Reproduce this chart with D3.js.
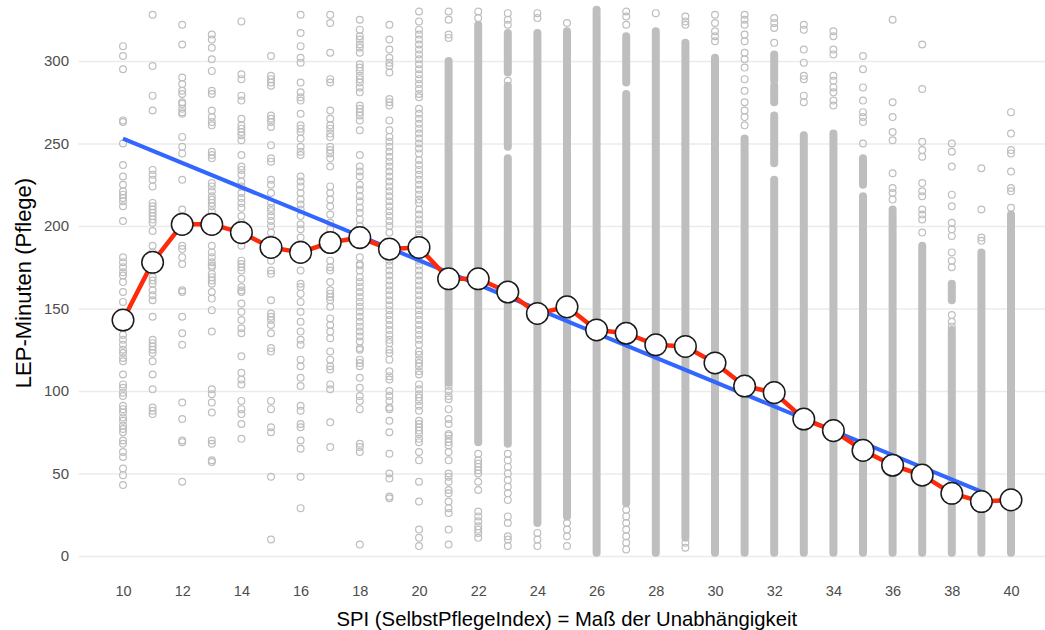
<!DOCTYPE html>
<html>
<head>
<meta charset="utf-8">
<script src="https://cdn.jsdelivr.net/npm/d3@7"></script>
<style>
  body { margin: 0; background: #fff; }
  svg { display: block; font-family: "Liberation Sans", Arial, sans-serif; }
</style>
</head>
<body>
<div id="chart"></div>
<script>
// SPI categories (x) and the tick labels
const spiValues = [10, 11, 12, 13, 14, 15, 16, 17, 18, 19, 20, 21, 22, 23, 24, 25,
                   26, 27, 28, 29, 30, 31, 32, 33, 34, 35, 36, 37, 38, 39, 40];
const spiTicks = [10, 12, 14, 16, 18, 20, 22, 24, 26, 28, 30, 32, 34, 36, 38, 40];
const minuteTicks = [0, 50, 100, 150, 200, 250, 300];

// mean LEP minutes per SPI (red line)
const meanMinutes = [143, 178, 201, 201, 196, 187, 184, 190, 193, 186, 187, 168, 168, 160, 147, 151,
                     137, 135, 128, 127, 117, 103, 99, 83, 76, 64, 55, 49, 38, 33, 34];

// linear fit (blue line), start and end point
const fitSpi = [10, 39];
const fitMinutes = [253, 39];

// single patients per SPI (sparse parts of each column)
const pointMinutes = [
  [309, 303, 295, 264, 263, 250, 237, 230, 225, 221, 219, 217, 215, 212, 203, 181, 178, 175, 172, 170, 166, 160, 154, 134, 131, 128, 125, 123, 120, 118, 110, 104, 102, 99, 97, 91, 89, 87, 84, 82, 79, 77, 75, 70, 68, 63, 60, 53, 49, 43],
  [328, 297, 279, 270, 234, 231, 228, 224, 214, 212, 210, 208, 206, 204, 202, 197, 188, 184, 180, 169, 167, 165, 161, 158, 155, 145, 131, 129, 127, 125, 123, 118, 110, 101, 90, 88, 86],
  [322, 310, 290, 286, 282, 280, 275, 274, 271, 269, 268, 254, 248, 244, 228, 210, 188, 186, 181, 177, 161, 160, 145, 135, 128, 93, 83, 70, 69, 45],
  [316, 313, 308, 301, 294, 282, 280, 270, 266, 263, 261, 245, 243, 241, 226, 224, 221, 218, 216, 214, 212, 209, 188, 184, 181, 178, 176, 175, 171, 169, 167, 165, 160, 156, 149, 136, 101, 98, 93, 87, 70, 68, 58, 57],
  [324, 292, 289, 279, 276, 265, 261, 259, 257, 255, 252, 243, 236, 234, 231, 227, 224, 220, 217, 214, 211, 206, 202, 188, 179, 177, 175, 173, 168, 163, 161, 160, 153, 148, 143, 138, 135, 121, 111, 107, 104, 94, 89, 86, 80, 71],
  [303, 291, 289, 287, 285, 267, 265, 263, 260, 249, 241, 239, 228, 225, 220, 214, 211, 209, 206, 203, 200, 196, 179, 173, 171, 155, 147, 145, 143, 140, 135, 126, 124, 94, 89, 78, 75, 48, 10],
  [328, 317, 309, 302, 299, 287, 281, 278, 276, 268, 261, 259, 257, 253, 248, 245, 243, 230, 227, 224, 220, 216, 213, 210, 206, 201, 198, 193, 173, 165, 163, 159, 154, 148, 142, 136, 131, 128, 119, 115, 108, 103, 91, 88, 80, 78, 70, 65, 48, 29],
  [328, 323, 305, 289, 287, 270, 265, 261, 259, 256, 254, 248, 246, 244, 241, 236, 224, 220, 216, 212, 207, 202, 198, 179, 175, 173, 166, 161, 159, 157, 155, 151, 144, 140, 136, 132, 124, 119, 115, 113, 104, 101, 81, 66],
  [325, 319, 315, 313, 310, 308, 305, 298, 296, 294, 291, 289, 287, 284, 281, 273, 271, 269, 267, 264, 258, 243, 236, 233, 230, 225, 222, 218, 215, 211, 208, 204, 200, 188, 181, 177, 176, 173, 169, 166, 163, 160, 157, 154, 151, 148, 145, 142, 139, 136, 133, 130, 126, 125, 119, 117, 115, 108, 102, 97, 94, 89, 68, 66, 63, 7],
  [322, 313, 307, 302, 299, 297, 293, 277, 275, 273, 264, 258, 254, 251, 248, 245, 242, 239, 236, 233, 230, 227, 224, 221, 218, 215, 212, 209, 206, 203, 200, 196,
   179, 176, 173, 170, 167, 164, 161, 158, 155, 152, 149, 146, 143, 140, 137, 134, 131, 129, 125, 123, 119, 112, 109, 107, 100, 97, 94, 90, 89, 82, 75, 62, 50, 47, 36, 35],
  [330, 324, 319, 316, 313, 310, 307, 304, 301, 298, 295, 292, 289, 286, 283, 280, 278, 271, 268, 265, 262, 259, 256, 253, 250, 247, 244, 240, 237, 234, 231, 228, 225, 222, 219, 216, 214,
   210, 207, 204, 201, 198, 195, 193, 179, 176, 173, 170, 167, 164, 161, 158, 155, 152, 149, 146, 143, 140, 137, 134, 131, 128,
   124, 122, 119, 117, 115, 112, 110, 104, 101, 98, 96, 94, 91, 88, 82, 80, 78, 76, 74, 71, 69, 63, 58, 45, 33, 16, 11, 6],
  [330, 325, 316, 314, 103, 100, 97, 95, 89, 83, 80, 74, 73, 71, 69, 67, 63, 58, 50, 48, 45, 40, 38, 33, 29, 26, 16, 7],
  [330, 326, 62, 58, 56, 54, 52, 50, 45, 40, 27, 24, 21, 18, 16, 14, 11],
  [329, 325, 322, 288, 62, 58, 54, 50, 46, 42, 38, 34, 24, 20, 12, 10, 6],
  [329, 326, 14, 10, 6],
  [323, 20, 16, 12, 6],
  [],
  [330, 327, 322, 28, 24, 20, 16, 12, 8, 4],
  [329],
  [327, 324, 322, 8, 5],
  [328, 323, 318, 315, 312],
  [328, 325, 322, 316, 312, 305, 301, 296, 289, 282, 275, 270, 266, 261],
  [326, 323, 320, 311],
  [322, 319, 307, 299, 291, 289, 279, 275],
  [318, 315, 307, 304, 291, 288, 284, 281, 276, 273],
  [303, 295, 284, 276, 269, 266, 263, 250],
  [325, 275, 266, 257, 252, 232, 223, 220, 216],
  [310, 283, 251, 246, 242, 226, 221, 218, 210, 207, 204, 196],
  [250, 245, 236, 219, 212, 202, 198, 194, 184, 179, 175, 146, 142, 139],
  [235, 210, 193, 191],
  [269, 256, 246, 244, 233, 223, 221, 211]
];

// stretches where the circles overlap into a solid column [from, to]
const denseMinutes = [
  [], [], [], [], [], [], [], [], [], [], [],
  [[105, 300]],
  [[69, 322]],
  [[68, 241], [248, 285], [293, 317]],
  [[20, 317]],
  [[24, 318]],
  [[2, 331]],
  [[32, 280], [287, 315]],
  [[2, 318]],
  [[11, 311]],
  [[2, 302]],
  [[2, 253]],
  [[2, 228], [238, 267], [275, 285], [288, 304]],
  [[2, 255]],
  [[2, 256]],
  [[2, 218], [225, 241]],
  [[2, 210]],
  [[2, 188]],
  [[2, 137], [155, 165]],
  [[2, 184]],
  [[2, 207]]
];

const width = 1045, height = 630;
const panel = {left: 78.6, right: 1055, bottom: 583};

const svg = d3.select("#chart")
  .append("svg")
    .attr("width", width)
    .attr("height", height);

const x = d3.scaleLinear().domain([10, 40]).range([123, 1011]);
const y = d3.scaleLinear().domain([0, 300]).range([556, 61]);

// horizontal grid + y labels
const yAxis = svg.append("g")
  .attr("transform", "translate(" + panel.left + ",0)")
  .call(d3.axisLeft(y)
    .tickValues(minuteTicks)
    .tickSize(-(panel.right - panel.left))
    .tickPadding(9.6));
yAxis.select(".domain").remove();
yAxis.selectAll("line").attr("stroke", "#ebebeb").attr("stroke-width", 1.3);
yAxis.selectAll("text")
  .attr("fill", "#4d4d4d")
  .style("font-size", "15px");

// x labels (no ticks)
const xAxis = svg.append("g")
  .attr("transform", "translate(0," + panel.bottom + ")")
  .call(d3.axisBottom(x)
    .tickValues(spiTicks)
    .tickSize(0)
    .tickPadding(2.7));
xAxis.select(".domain").remove();
xAxis.selectAll("text")
  .attr("fill", "#4d4d4d")
  .style("font-size", "14.5px");

const r = 3.4, pointStroke = 1.2, grey = "#bebebe";

// dense parts as solid columns
const bands = [];
spiValues.forEach((s, i) => denseMinutes[i].forEach(b => bands.push({spi: s, lo: b[0], hi: b[1]})));
svg.append("g")
  .selectAll("rect")
  .data(bands)
  .enter()
  .append("rect")
    .attr("x", d => x(d.spi) - r - pointStroke / 2)
    .attr("width", 2 * r + pointStroke)
    .attr("y", d => y(d.hi) - r - pointStroke / 2)
    .attr("height", d => y(d.lo) - y(d.hi) + 2 * r + pointStroke)
    .attr("rx", r + pointStroke / 2)
    .attr("fill", grey);

// single hollow points
const points = [];
spiValues.forEach((s, i) => pointMinutes[i].forEach(v => points.push({spi: s, value: v})));
svg.append("g")
  .selectAll("circle")
  .data(points)
  .enter()
  .append("circle")
    .attr("cx", d => x(d.spi))
    .attr("cy", d => y(d.value))
    .attr("r", r)
    .attr("fill", "none")
    .attr("stroke", grey)
    .attr("stroke-width", pointStroke);

// regression line
svg.append("path")
  .datum(fitSpi.map((s, i) => [s, fitMinutes[i]]))
  .attr("fill", "none")
  .attr("stroke", "#3366ff")
  .attr("stroke-width", 4)
  .attr("d", d3.line().x(d => x(d[0])).y(d => y(d[1])));

// means
const means = spiValues.map((s, i) => ({spi: s, value: meanMinutes[i]}));
svg.append("path")
  .datum(means)
  .attr("fill", "none")
  .attr("stroke", "#ff2a0a")
  .attr("stroke-width", 4.5)
  .attr("stroke-linejoin", "round")
  .attr("d", d3.line().x(d => x(d.spi)).y(d => y(d.value)));

svg.append("g")
  .selectAll("circle")
  .data(means)
  .enter()
  .append("circle")
    .attr("cx", d => x(d.spi))
    .attr("cy", d => y(d.value))
    .attr("r", 10.8)
    .attr("fill", "#fff")
    .attr("stroke", "#1a1a1a")
    .attr("stroke-width", 1.5);

// axis titles
svg.append("text")
  .attr("x", (panel.left + panel.right) / 2)
  .attr("y", 626)
  .attr("text-anchor", "middle")
  .style("font-size", "20.3px")
  .attr("fill", "#000")
  .text("SPI (SelbstPflegeIndex) = Maß der Unabhängigkeit");

svg.append("text")
  .attr("transform", "translate(31,283) rotate(-90)")
  .attr("text-anchor", "middle")
  .style("font-size", "22px")
  .attr("fill", "#000")
  .text("LEP-Minuten (Pflege)");
</script>
</body>
</html>
